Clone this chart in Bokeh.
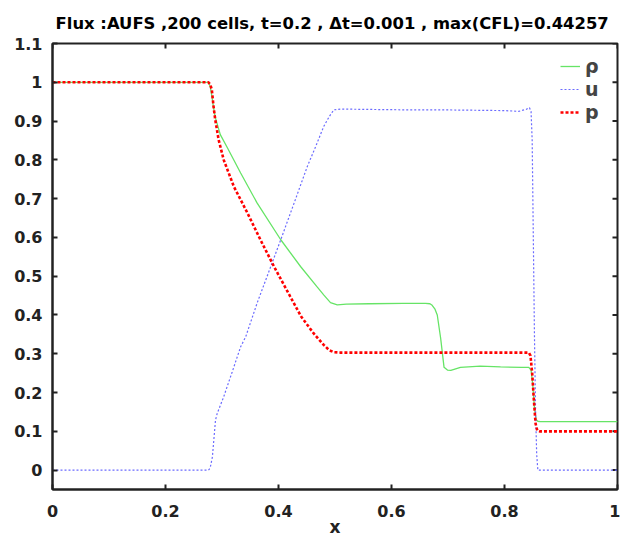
import math
from bokeh.plotting import figure
from bokeh.models import Range1d, FixedTicker, Legend, LegendItem
from bokeh.embed import file_html
from bokeh.resources import INLINE

title_text = "Flux :AUFS  ,200 cells, t=0.2 , \u0394t=0.001 , max(CFL)=0.44257"

# density
x_rho = [0.0, 0.276, 0.279, 0.282, 0.285, 0.288, 0.297, 0.310, 0.333, 0.362, 0.404, 0.439, 0.468, 0.480,
         0.492, 0.504, 0.520, 0.560, 0.620, 0.660, 0.668, 0.672, 0.677, 0.681, 0.687, 0.693, 0.699, 0.705,
         0.722, 0.757, 0.793, 0.830, 0.843, 0.847, 0.850, 0.853, 0.856, 0.859, 0.863, 1.0]
rho = [1.0, 1.0, 0.99, 0.965, 0.935, 0.91, 0.865, 0.83, 0.766, 0.689, 0.594, 0.525, 0.473, 0.452,
       0.432, 0.426, 0.428, 0.429, 0.430, 0.430, 0.429, 0.425, 0.415, 0.400, 0.34, 0.265, 0.258, 0.257,
       0.265, 0.268, 0.266, 0.265, 0.265, 0.258, 0.22, 0.16, 0.13, 0.126, 0.125, 0.125]

# velocity
x_u = [0.0, 0.276, 0.279, 0.283, 0.2885, 0.2915, 0.303, 0.318, 0.333, 0.342, 0.362, 0.383, 0.404, 0.428,
       0.451, 0.466, 0.480, 0.490, 0.498, 0.510, 0.560, 0.620, 0.680, 0.740, 0.800, 0.825, 0.838, 0.844,
       0.847, 0.849, 0.851, 0.853, 0.855, 0.857, 0.859, 1.0]
u = [0.0, 0.0, 0.005, 0.034, 0.129, 0.146, 0.189, 0.253, 0.318, 0.344, 0.430, 0.512, 0.594, 0.690,
     0.783, 0.835, 0.886, 0.912, 0.929, 0.931, 0.930, 0.929, 0.929, 0.928, 0.927, 0.925, 0.930, 0.935,
     0.925, 0.85, 0.60, 0.35, 0.15, 0.04, 0.0, 0.0]

# pressure
x_p = [0.0, 0.276, 0.279, 0.282, 0.285, 0.288, 0.294, 0.303, 0.321, 0.345, 0.368, 0.392, 0.421, 0.440,
       0.462, 0.480, 0.490, 0.498, 0.510, 0.600, 0.700, 0.800, 0.843, 0.846, 0.849, 0.852, 0.855, 0.858,
       0.862, 1.0]
p_val = [1.0, 1.0, 0.995, 0.981, 0.938, 0.904, 0.852, 0.800, 0.731, 0.663, 0.594, 0.525, 0.447, 0.396,
         0.353, 0.323, 0.309, 0.304, 0.303, 0.303, 0.303, 0.303, 0.303, 0.295, 0.25, 0.18, 0.12, 0.102,
         0.1, 0.1]

series_names = ["\u03c1", "u", "p"]
x_ticks = [0, 0.2, 0.4, 0.6, 0.8, 1]
x_tick_labels = ["0", "0.2", "0.4", "0.6", "0.8", "1"]
y_ticks = [0, 0.1, 0.2, 0.3, 0.4, 0.5, 0.6, 0.7, 0.8, 0.9, 1, 1.1]
y_tick_labels = ["0", "0.1", "0.2", "0.3", "0.4", "0.5", "0.6", "0.7", "0.8", "0.9", "1", "1.1"]
x_label = "x"

FONT = "DejaVu Sans"
INK = "#222222"
X0, X1 = 0, 1
Y0, Y1 = -0.05, 1.1

p = figure(frame_width=565, frame_height=446, x_range=Range1d(X0, X1), y_range=Range1d(Y0, Y1),
           output_backend="svg", toolbar_location=None, title=title_text,
           min_border_left=52, min_border_right=3, min_border_top=43, min_border_bottom=50)
p.background_fill_color = "white"
p.border_fill_color = "white"
p.grid.visible = False
p.outline_line_color = INK
p.outline_line_width = 2

p.title.text_font = FONT
p.title.text_font_style = "bold"
p.title.text_font_size = "16.4px"
p.title.align = "center"
p.title.vertical_align = "top"
p.title.text_color = "black"
p.title.standoff = 17

for ax, ticks, labels, fs in ((p.xaxis[0], x_ticks, x_tick_labels, "16px"),
                              (p.yaxis[0], y_ticks, y_tick_labels, "16px")):
    ax.ticker = FixedTicker(ticks=ticks)
    ax.major_label_overrides = {t: l for t, l in zip(ticks, labels)}
    ax.major_label_text_font = FONT
    ax.major_label_text_font_style = "bold"
    ax.major_label_text_font_size = fs
    ax.major_label_text_color = INK
    ax.major_tick_in = 5
    ax.major_tick_out = 0
    ax.major_tick_line_width = 2
    ax.major_tick_line_color = INK
    ax.minor_tick_line_color = None
    ax.axis_line_width = 2
    ax.axis_line_color = INK
    ax.major_label_standoff = 10

p.xaxis[0].major_label_standoff = 15
p.xaxis[0].axis_label = x_label
p.xaxis[0].axis_label_text_font = FONT
p.xaxis[0].axis_label_text_font_style = "bold"
p.xaxis[0].axis_label_text_font_size = "17px"
p.xaxis[0].axis_label_standoff = -3
p.xaxis[0].axis_label_text_color = INK

# mirrored inward ticks on the top and right frame edges
p.ray(x=x_ticks, y=[Y1] * len(x_ticks), length=5, length_units="screen", angle=-math.pi / 2,
      line_color=INK, line_width=2)
p.ray(x=[X1] * len(y_ticks), y=y_ticks, length=5, length_units="screen", angle=math.pi,
      line_color=INK, line_width=2)

r_rho = p.line(x_rho, rho, line_color="#66e466", line_width=1.3)
r_u = p.line(x_u, u, line_color="#6b6bff", line_width=1.2, line_dash="2 2")
r_p = p.line(x_p, p_val, line_color="#ff0000", line_width=2.6, line_dash="3 2")

legend = Legend(items=[LegendItem(label=n, renderers=[r]) for n, r in zip(series_names, (r_rho, r_u, r_p))],
                location="top_right", border_line_color=None, background_fill_alpha=0,
                label_text_font=FONT, label_text_font_style="bold", label_text_font_size="19px",
                glyph_width=20, glyph_height=20, label_height=20, spacing=1, padding=10, margin=12,
                label_standoff=5)
p.add_layout(legend)

open("out.html", "w").write(file_html(p, INLINE))
